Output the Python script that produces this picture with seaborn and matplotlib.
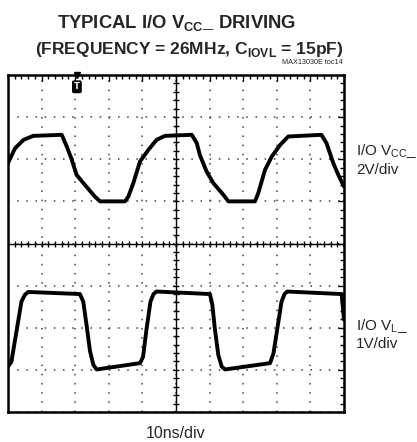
import matplotlib
matplotlib.use("Agg")
import matplotlib.pyplot as plt
import numpy as np
import seaborn as sns
from matplotlib.ticker import MultipleLocator

sns.set_theme(style="white")
plt.rcParams["font.family"] = ["Liberation Sans", "DejaVu Sans"]
plt.rcParams["mathtext.fontset"] = "custom"

# scope traces: time (ns), volts
vcc_time_ns = [0, 2.1, 4.6, 7.5, 16, 17.5, 19, 20.4, 22.9, 25.9, 27.4, 34.8,
               35.8, 37.3, 39.3, 41.8, 44.2, 46.7, 54.7, 56.2, 57.1, 59.1, 61.1,
               64.1, 65.6, 73.5, 74.5, 76.5, 78.5, 81, 83.4, 93.3, 94.8, 96.8,
               98.3, 100]
vcc_volts = [1.82, 2.52, 2.92, 3.11, 3.16, 2.6, 1.97, 1.26, 0.78, 0.22, 0.0, 0.0,
             0.22, 0.87, 1.9, 2.45, 2.92, 3.11, 3.16, 2.76, 2.2, 1.42, 0.87,
             0.31, 0.0, 0.0, 0.4, 1.5, 2.13, 2.68, 3.08, 3.16, 2.76, 1.82,
             1.26, 0.7]

vl_time_ns = [0, 1.0, 2.6, 4.0, 5.0, 6.0, 21.4, 22.4, 23.4, 24.4, 25.4, 26.4,
              39.3, 40.2, 41.2, 42.4, 43.3, 44.2, 60.1, 60.8, 61.6, 62.6, 63.6,
              64.6, 78.0, 79.0, 80.1, 81.4, 82.3, 83.1, 99.3, 100]
vl_volts = [0.08, 0.19, 0.95, 1.62, 1.78, 1.85, 1.80, 1.62, 1.05, 0.45, 0.12, 0.01,
            0.16, 0.31, 0.95, 1.62, 1.80, 1.86, 1.80, 1.55, 0.95, 0.35, 0.08,
            0.01, 0.16, 0.39, 0.95, 1.62, 1.80, 1.86, 1.80, 1.19]

vcc_scale, vcc_offset = 2.0, 5.0   # V/div, ground position (div)
vl_scale, vl_offset = 1.0, 1.0
trigger_ns = 20.5

fig = plt.figure(figsize=(4.17, 4.42), dpi=100)
ax = fig.add_axes([8 / 417, 30 / 442, 336 / 417, 337 / 442])

vcc_div = np.array(vcc_volts) / vcc_scale + vcc_offset
vl_div = np.array(vl_volts) / vl_scale + vl_offset
for t, v in [(vcc_time_ns, vcc_div), (vl_time_ns, vl_div)]:
    sns.lineplot(x=t, y=v, sort=False, estimator=None, color="black",
                 linewidth=2.8, ax=ax, zorder=5, solid_joinstyle="round")

ax.set_xlim(0, 100)
ax.set_ylim(0, 8)
ax.xaxis.set_major_locator(MultipleLocator(10))
ax.yaxis.set_major_locator(MultipleLocator(1))
ax.xaxis.set_minor_locator(MultipleLocator(2))
ax.yaxis.set_minor_locator(MultipleLocator(0.2))
ax.grid(True, which="major", color="0.25", linestyle=(0, (1, 5)), linewidth=1.1)
ax.tick_params(which="both", direction="in", top=True, right=True, color="black",
               labelbottom=False, labelleft=False)
ax.tick_params(which="major", length=4, width=1)
ax.tick_params(which="minor", length=3, width=1)
for s in ax.spines.values():
    s.set_color("black")
    s.set_linewidth(1.8)
ax.set_xlabel("")
ax.set_ylabel("")

# centre graticule with subdivision marks
xs = np.arange(0, 100.01, 2)
ys = np.arange(0, 8.001, 0.2)
ax.plot(xs, np.full_like(xs, 4.0), color="black", lw=1, marker="|", ms=5, mew=1)
ax.plot(np.full_like(ys, 50.0), ys, color="black", lw=1, marker="_", ms=5, mew=1)

# trigger marker
ax.plot([trigger_ns], [8], marker="v", color="black", ms=4, clip_on=False, zorder=6)
ax.text(trigger_ns, 7.72, "T", color="white", fontsize=6, fontweight="bold",
        ha="center", va="center", zorder=6, family="DejaVu Sans",
        bbox=dict(boxstyle="round,pad=0.15", fc="black", ec="black"))

W, H = 417, 442
fig.text(177 / W, 1 - 28 / H, r"TYPICAL I/O V$_{\mathregular{CC}}$_ DRIVING",
         ha="center", va="baseline", fontsize=13.3, fontweight="bold")
fig.text(189 / W, 1 - 54 / H, r"(FREQUENCY = 26MHz, C$_{\mathregular{IOVL}}$ = 15pF)",
         ha="center", va="baseline", fontsize=12.5, fontweight="bold")
fig.text(343 / W, 1 - 64 / H, "MAX13030E toc14", ha="right", va="baseline", fontsize=5.2)

fig.text(356 / W, 1 - 155 / H, r"I/O V$_{\mathregular{CC}}$_", ha="left", va="baseline", fontsize=11)
fig.text(356 / W, 1 - 174 / H, "2V/div", ha="left", va="baseline", fontsize=11)
fig.text(356 / W, 1 - 330 / H, r"I/O V$_{\mathregular{L}}$_", ha="left", va="baseline", fontsize=11)
fig.text(356 / W, 1 - 348 / H, "1V/div", ha="left", va="baseline", fontsize=11)
fig.text(176 / W, 1 - 438 / H, "10ns/div", ha="center", va="baseline", fontsize=11.5)

fig.savefig("out.png", dpi=100)
